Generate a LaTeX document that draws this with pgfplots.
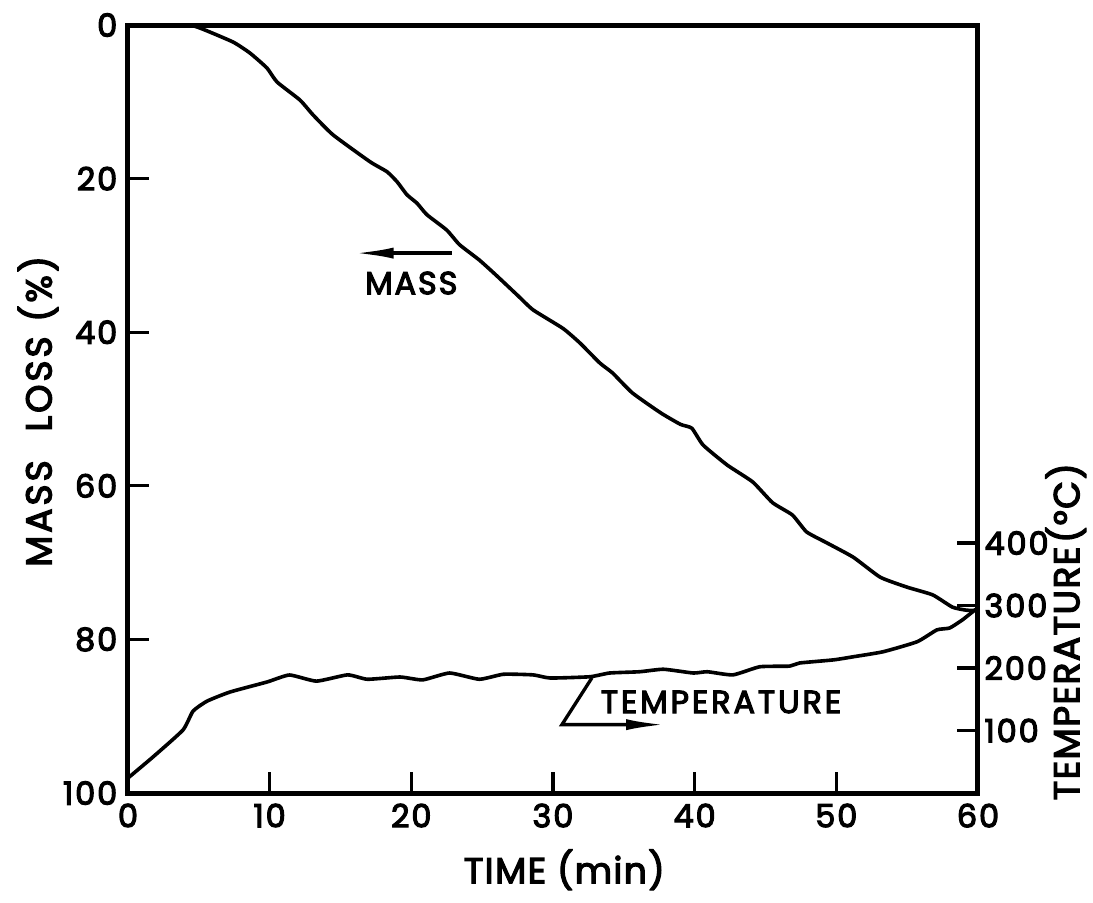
\documentclass[border=0pt]{standalone}
\usepackage{fontspec}
\setmainfont{Poppins}[LetterSpace=6, FakeBold=3.5]
\usepackage{pgfplots}
\pgfplotsset{compat=1.18}
\usetikzlibrary{arrows.meta}
\begin{document}
\fontsize{11pt}{13pt}\selectfont
\begin{tikzpicture}[font=\fontsize{11pt}{13pt}\selectfont]
\path[use as bounding box] (-46.08pt,-39.24pt) rectangle (347.4pt,285.48pt);
\begin{axis}[
  scale only axis, width=306pt, height=276.48pt,
  xmin=0, xmax=60, ymin=0, ymax=100, y dir=reverse,
  xtick={0,10,...,60}, ytick={0,20,...,100},
  xtick pos=bottom, ytick pos=left,
  tick align=inside, major tick length=7.5pt,
  axis line style={line width=1.8pt},
  every tick/.style={line width=1.2pt, black},
  ticklabel style={font=\fontsize{11.5pt}{13pt}\selectfont},
  /pgf/number format/assume math mode=true,
  clip=false,
]
\addplot[black, line width=1.3pt, smooth, tension=0.3] coordinates {
(0,0) (4.16,0) (5.08,0.39) (7.41,2.21) (8.61,3.65) (9.81,5.6) (10.52,7.42)
(12.14,9.77) (13.06,11.7) (14.47,14.3) (17.08,17.8) (18.28,19.1) (18.99,20.4)
(19.69,22.1) (20.4,23.2) (21.1,24.7) (22.5,26.7) (23.4,28.6) (24.8,30.6)
(26.0,32.6) (27.5,35.2) (28.6,37.1) (30.7,39.5) (31.9,41.4) (33.3,44.0)
(34.2,45.3) (35.6,47.9) (37.6,50.5) (39.0,52.0) (39.8,52.5) (40.6,54.7)
(42.3,57.3) (44.1,59.5) (45.5,62.2) (46.9,63.8) (47.9,66.0) (49.3,67.4)
(51.2,69.3) (53.1,71.9) (55.0,73.2) (56.8,74.2) (58.2,75.8) (59.2,76.2) (60,76.2)
};
\draw[line width=1.2pt, -{Latex[length=14pt,width=4pt]}] (axis cs:22.87,29.7) -- (axis cs:16.0,29.7);
\node[font=\fontsize{11.5pt}{13pt}\selectfont] at (axis cs:20.0,33.6) {MASS};
\draw[line width=1.2pt, -{Latex[length=14pt,width=4pt]}] (axis cs:32.75,85.0) -- (axis cs:30.63,91.1) -- (axis cs:37.9,91.1);
\node[font=\fontsize{11.5pt}{13pt}\selectfont] at (axis cs:41.86,88.15) {\addfontfeatures{LetterSpace=9}TEMPERATURE};
\node[rotate=90, font=\fontsize{13pt}{15pt}\selectfont] at (axis cs:-6.35,50.3) {\addfontfeatures{LetterSpace=8}MASS\hspace{0.8em}LOSS\hspace{0.4em}(\%)};
\node[font=\fontsize{13pt}{15pt}\selectfont] at (axis cs:30.8,110.0) {\addfontfeatures{LetterSpace=4}TIME\hspace{0.3em}(min)};
\node[rotate=90, font=\fontsize{13pt}{15pt}\selectfont] at (axis cs:66.2,79.0) {\addfontfeatures{LetterSpace=4}TEMPERATURE\hspace{0.1em}(°C)};
\end{axis}
\begin{axis}[
  scale only axis, width=306pt, height=276.48pt,
  xmin=0, xmax=60, ymin=0, ymax=1228.8,
  axis x line=none, axis y line*=right,
  ytick={100,200,300,400},
  tick align=inside, major tick length=7.5pt,
  axis line style={line width=1.8pt, -},
  every tick/.style={line width=1.2pt, black},
  ticklabel style={font=\fontsize{11.5pt}{13pt}\selectfont},
  yticklabel style={xshift=-1.5pt},
  /pgf/number format/assume math mode=true,
  clip=false,
]
\addplot[black, line width=1.3pt, smooth, tension=0.3] coordinates {
(0,24) (1.76,57.6) (3.88,100.8) (4.59,131) (5.58,147) (7.2,161.6) (9.81,177.6)
(11.4,188.8) (13.3,179) (15.5,189) (16.9,182) (19.2,185.6) (20.8,181) (22.7,192)
(24.8,182) (26.5,190) (28.6,189) (29.8,184) (32.6,186) (34.0,192) (36.1,194)
(37.8,198) (39.9,192) (40.9,194) (42.7,189) (44.6,202) (46.7,203) (47.4,208)
(49.8,213) (51.2,218) (53.3,226) (55.7,242) (57.1,261) (58.0,264) (58.9,277)
(59.8,293) (60,294)
};
\end{axis}
\end{tikzpicture}
\end{document}
